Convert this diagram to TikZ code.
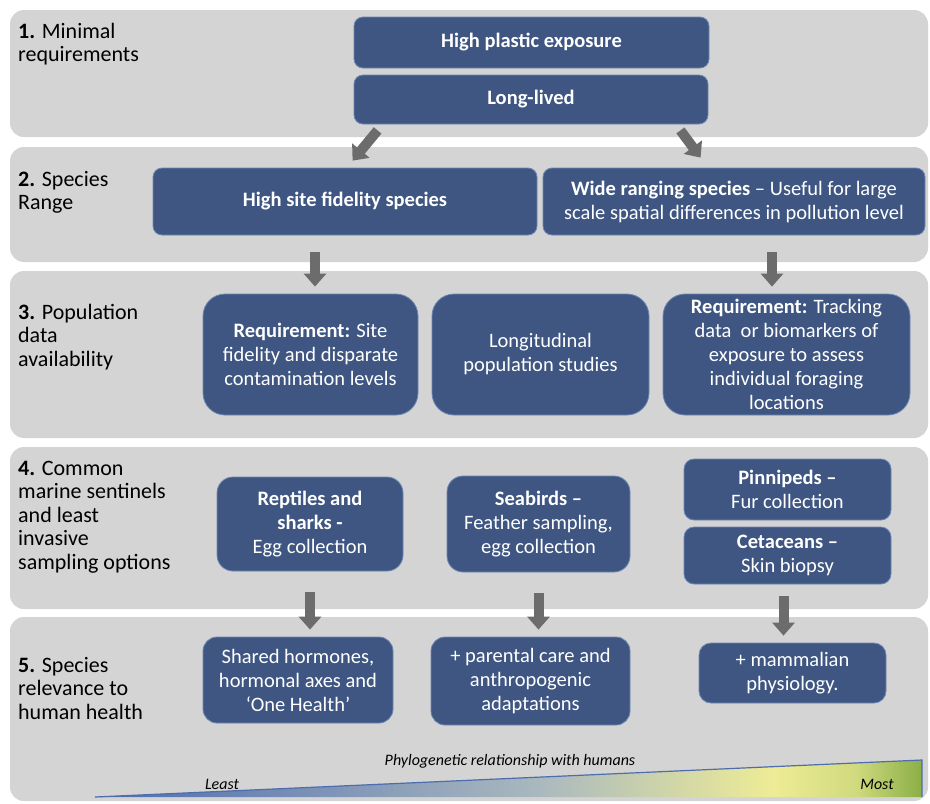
\documentclass[tikz,border=0pt]{standalone}
\usepackage{fontspec}
\setmainfont{Carlito}
\usetikzlibrary{arrows.meta}

\definecolor{bandgrey}{RGB}{212,212,212}
\definecolor{boxblue}{RGB}{62,86,129}
\definecolor{boxedge}{RGB}{110,135,180}
\definecolor{arrowgrey}{RGB}{108,108,108}
\definecolor{triblue}{RGB}{78,108,175}
\definecolor{trimid}{RGB}{170,185,190}
\definecolor{triyellow}{RGB}{238,236,150}
\definecolor{trigreen}{RGB}{138,175,70}

\pgfdeclarehorizontalshading{phylo}{100bp}{color(0bp)=(triblue); color(25bp)=(triblue);
  color(52bp)=(trimid); color(66bp)=(triyellow); color(71bp)=(triyellow!70!trigreen);
  color(75bp)=(trigreen); color(100bp)=(trigreen)}

\tikzset{
  band/.style={fill=bandgrey, rounded corners=14},
  box/.style={draw=boxedge, line width=0.8, fill=boxblue, text=white, align=center,
    inner sep=2, font=\fontsize{20.5}{24}\selectfont},
  lbl/.style={anchor=north west, align=left, inner sep=0, font=\fontsize{22}{23.5}\selectfont},
  bigarrow/.style={draw=arrowgrey, line width=10, -{Triangle[width=22,length=13]}},
  axis/.style={inner sep=0, font=\fontsize{16}{18}\selectfont\itshape}
}

\begin{document}
\begin{tikzpicture}[x=1pt,y=-1pt]
            \useasboundingbox[fill=white] (0,0) rectangle (930,804);
            % the five levels
            \fill[band] (10,10) rectangle (928,137);
            \fill[band] (10,147) rectangle (928,262);
            \fill[band] (10,271) rectangle (928,438);
            \fill[band] (10,447) rectangle (928,609);
            \fill[band] (10,617) rectangle (928,801);
            \node [lbl] (l1) at (18,23) {\textbf{1.} Minimal\\requirements};
            \node [lbl] (l2) at (18,171) {\textbf{2.} Species\\Range};
            \node [lbl] (l3) at (18,304) {\textbf{3.} Population\\data\\availability};
            \node [lbl] (l4) at (18,461) {\textbf{4.} Common\\marine sentinels\\and least\\invasive\\sampling options};
            \node [lbl] (l5) at (18,657) {\textbf{5.} Species\\relevance to\\human health};
            % boxes
            \node [box, rounded corners=9, minimum width=355, minimum height=51] (plastic) at (531.5,42.5) {\textbf{High plastic exposure}};
            \node [box, rounded corners=9, minimum width=354, minimum height=49] (long) at (531,99.5) {\textbf{Long-lived}};
            \node [box, rounded corners=9, minimum width=384, minimum height=67] (site) at (345,201.5) {\textbf{High site fidelity species}};
            \node [box, rounded corners=9, minimum width=382, minimum height=67] (wide) at (734,201.5) {\textbf{Wide ranging species} – Useful for large\\scale spatial differences in pollution level};
            \node [box, rounded corners=22, minimum width=215, minimum height=121] (fidreq) at (310.5,354.5) {\textbf{Requirement:} Site\\fidelity and disparate\\contamination levels};
            \node [box, rounded corners=22, minimum width=217, minimum height=121] (longi) at (540.5,354.5) {Longitudinal\\population studies};
            \node [box, rounded corners=22, minimum width=247, minimum height=121] (track) at (786.5,354.5) {\textbf{Requirement:} Tracking\\data~ or biomarkers of\\exposure to assess\\individual foraging\\locations};
            \node [box, rounded corners=16, minimum width=186, minimum height=94] (reptiles) at (310,524) {\textbf{Reptiles and}\\\textbf{sharks -}\\Egg collection};
            \node [box, rounded corners=16, minimum width=183, minimum height=96] (seabirds) at (538.5,524) {\textbf{Seabirds –}\\Feather sampling,\\egg collection};
            \node [box, rounded corners=10, minimum width=207, minimum height=61] (pinni) at (787.5,489.5) {\textbf{Pinnipeds –}\\Fur collection};
            \node [box, rounded corners=10, minimum width=207, minimum height=57] (ceta) at (787.5,555.5) {\textbf{Cetaceans –}\\Skin biopsy};
            \node [box, rounded corners=14, minimum width=190, minimum height=86] (hormones) at (298,680) {Shared hormones,\\hormonal axes and\\‘One Health’};
            \node [box, rounded corners=14, minimum width=199, minimum height=88] (parental) at (530.5,681) {+ parental care and\\anthropogenic\\adaptations};
            \node [box, rounded corners=12, minimum width=187, minimum height=60] (mammal) at (792.5,673) {+ mammalian\\physiology.};
            % arrows
            \draw [bigarrow] ([xshift=24,yshift=-6]long.south west) to ([xshift=200,yshift=7]site.north west);
            \draw [bigarrow] ([xshift=-28,yshift=-6]long.south east) to ([xshift=158,yshift=10]wide.north west);
            \draw [bigarrow, shorten <=17, shorten >=7] ([xshift=-30]site.south) to ([xshift=-30]site.south |- fidreq.north);
            \draw [bigarrow, shorten <=17, shorten >=7] ([xshift=38]wide.south) to ([xshift=38]wide.south |- track.north);
            \draw [bigarrow, shorten <=21, shorten >=7] (reptiles.south) to (reptiles.south |- hormones.north);
            \draw [bigarrow, shorten <=21, shorten >=7] (seabirds.south) to (seabirds.south |- parental.north);
            \draw [bigarrow, shorten <=12, shorten >=7] ([xshift=-4]ceta.south) to ([xshift=-4]ceta.south |- mammal.north);
            % phylogenetic wedge
            \shade [shading=phylo] (95,797) -- (922,760) -- (922,797) -- cycle;
            \draw [triblue, line width=1.2] (95,797) -- (922,760) -- (922,797);
            \node [axis] (phylo) at (510,761) {Phylogenetic relationship with humans};
            \node [axis] (least) at (222,784) {Least};
            \node [axis] (most) at (877,784) {Most};
        \end{tikzpicture}
\end{document}
